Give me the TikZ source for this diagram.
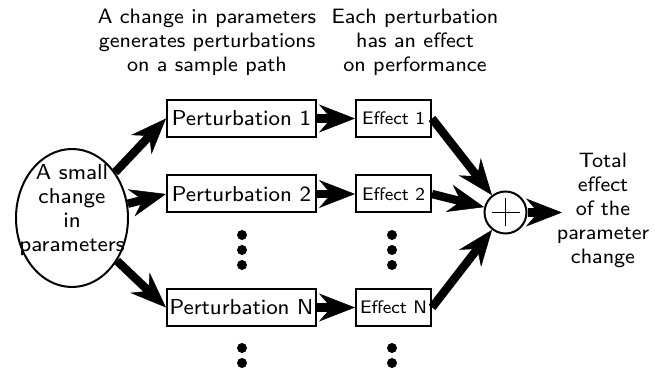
\documentclass[tikz,border=0pt]{standalone}
\usepackage{fontspec}
\setsansfont{lmsans8-regular.otf}
\usetikzlibrary{arrows.meta,shapes.geometric}
\newcommand\capfont{\sffamily\fontsize{15.6}{18}\selectfont}
\newcommand\pertfont{\sffamily\fontsize{16.2}{18}\selectfont}
\newcommand\elfont{\sffamily\fontsize{16.3}{18}\selectfont}
\newcommand\effont{\sffamily\fontsize{13.6}{16}\selectfont}
\begin{document}
\begin{tikzpicture}[x=0.75pt,y=-0.75pt,
  captext/.style={inner sep=0pt, align=center, font=\capfont},
  box/.style={draw, line width=1.5pt, minimum height=27.75pt, inner sep=0pt},
  pbox/.style={box, minimum width=111.75pt, font=\pertfont},
  ebox/.style={box, minimum width=56.25pt, font=\effont},
  big/.style={line width=6.3pt, -{Stealth[length=27pt,width=21pt,inset=9pt,line width=0.4pt]}},
  dotmark/.style={fill=black}]
\useasboundingbox (0,0) rectangle (665,374);
% captions
\node[captext] (c1) at (207,42) {A change in parameters\\generates perturbations\\on a sample path};
\node[captext] (c2) at (415,42) {Each perturbation\\has an effect\\on performance};
% source ellipse
\node[ellipse, draw, line width=1.5pt, minimum width=84pt, minimum height=103.5pt, inner sep=0pt] (el) at (72,218) {};
\node[inner sep=0pt, align=center, font=\elfont] (elt) at (72,210.5) {A small\\change\\in\\parameters};
% perturbations
\node[pbox] (p1) at (241.5,118.5) {Perturbation 1};
\node[pbox] (p2) at (241.5,194) {Perturbation 2};
\node[pbox] (pN) at (241.5,307.5) {Perturbation N};
% effects
\node[ebox] (e1) at (393.5,118.5) {Effect 1};
\node[ebox] (e2) at (393.5,194) {Effect 2};
\node[ebox] (eN) at (393.5,307.5) {Effect N};
% sum
\node[circle, draw, line width=1.5pt, minimum size=31.5pt, inner sep=0pt] (s) at (505.5,212.5) {};
\draw[line width=1.1pt] ([xshift=-10.5pt]s.center) -- ([xshift=10.5pt]s.center);
\draw[line width=1.1pt] ([yshift=-10.5pt]s.center) -- ([yshift=10.5pt]s.center);
\coordinate (out) at (562,212.5);
\node[captext] (tot) at (603,210.7) {Total\\effect\\of the\\parameter\\change};
% dots
\foreach \yy in {235,250,265,348,363} {
  \fill[dotmark] (242,\yy) circle[radius=3.75pt];
  \fill[dotmark] (392,\yy) circle[radius=3.75pt];
}
% arrows
\draw[big] (el) -- (p1.west);
\draw[big] (el) -- (p2.west);
\draw[big] (el) -- (pN.west);
\draw[big] (p1.east) -- (e1.west);
\draw[big] (p2.east) -- (e2.west);
\draw[big] (pN.east) -- (eN.west);
\draw[big] (e1.east) -- (s);
\draw[big] (e2.east) -- (s);
\draw[big] (eN.east) -- (s);
\draw[big] (s.east) -- (out);
\end{tikzpicture}
\end{document}
